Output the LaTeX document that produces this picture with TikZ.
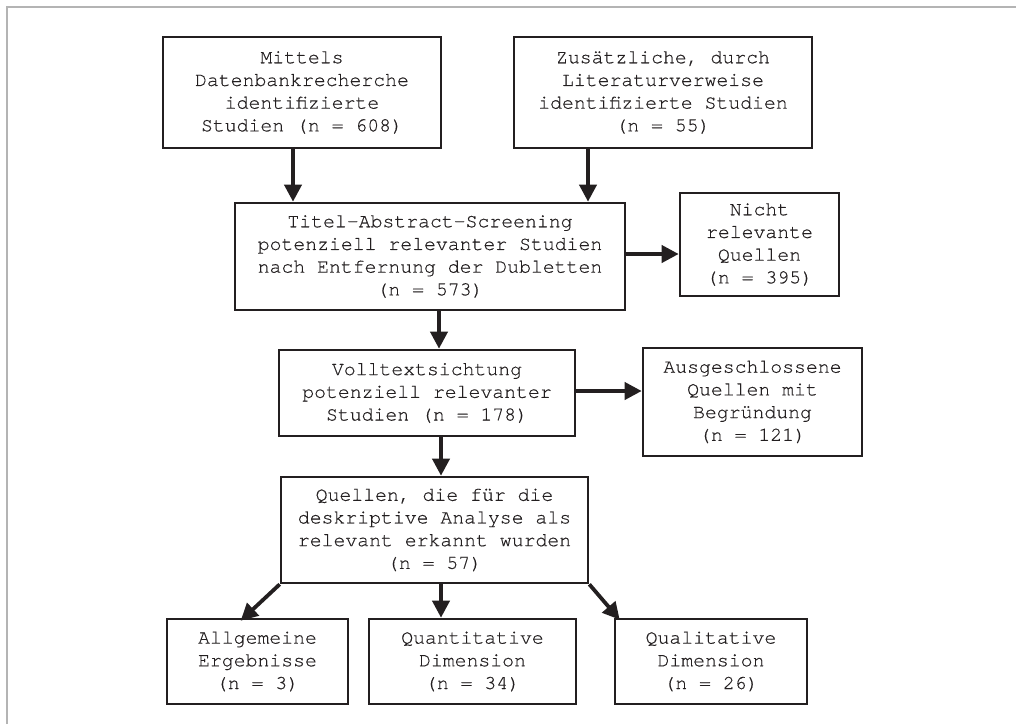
\documentclass[tikz,border=0pt]{standalone}
\usepackage{fontspec}
\setmainfont{TeX Gyre Cursor}[FakeBold=0.4]
\usetikzlibrary{arrows.meta}
\definecolor{ink}{HTML}{231F20}
\definecolor{frame}{HTML}{B4B4B4}
\begin{document}
\begin{tikzpicture}[x=1pt,y=-1pt,
  box/.style={draw=ink, line width=2.6pt, inner sep=0pt, align=center, text=ink,
    font=\fontsize{19.8}{22.7}\selectfont},
  arr/.style={draw=ink, line width=3.8pt, -{Triangle[length=17pt,width=17pt]}}]
\useasboundingbox (0,0) rectangle (1016,724);
\draw[frame, line width=2pt] (7,724) -- (7,7) -- (1016,7);
\node[box, minimum width=278pt, minimum height=111pt] (b1) at (302,92.5)
  {Mittels\\Datenbankrecherche\\identifizierte\\Studien (n = 608)};
\node[box, minimum width=298pt, minimum height=111pt] (b2) at (663,92.5)
  {Zusätzliche, durch\\Literaturverweise\\identifizierte Studien\\(n = 55)};
\node[box, minimum width=390pt, minimum height=107pt] (b3) at (430,256.5)
  {Titel-Abstract-Screening\\potenziell relevanter Studien\\nach Entfernung der Dubletten\\(n = 573)};
\node[box, minimum width=159pt, minimum height=103pt] (b4) at (759.5,244.5)
  {Nicht\\relevante\\Quellen\\(n = 395)};
\node[box, minimum width=296pt, minimum height=86pt] (b5) at (427,393)
  {Volltextsichtung\\potenziell relevanter\\Studien (n = 178)};
\node[box, minimum width=219pt, minimum height=108pt] (b6) at (752.5,402)
  {Ausgeschlossene\\Quellen mit\\Begründung\\(n = 121)};
\node[box, minimum width=307pt, minimum height=106pt] (b7) at (434.5,530)
  {Quellen, die für die\\deskriptive Analyse als\\relevant erkannt wurden\\(n = 57)};
\node[box, minimum width=181pt, minimum height=85pt] (b8) at (257.5,661.5)
  {Allgemeine\\Ergebnisse\\(n = 3)};
\node[box, minimum width=207pt, minimum height=85pt] (b9) at (472.5,661.5)
  {Quantitative\\Dimension\\(n = 34)};
\node[box, minimum width=192pt, minimum height=85pt] (b10) at (711,661.5)
  {Qualitative\\Dimension\\(n = 26)};
\draw[arr] ([xshift=-9pt]b1.south) -- ([xshift=-9pt]b1.south |- b3.north);
\draw[arr] ([xshift=-75pt]b2.south) -- ([xshift=-75pt]b2.south |- b3.north);
\draw[arr] ([yshift=2.5pt]b3.east) -- ([yshift=2.5pt]b3.east -| b4.west);
\draw[arr] ([xshift=9pt]b3.south) -- ([xshift=9pt]b3.south |- b5.north);
\draw[arr] ([yshift=2pt]b5.east) -- ([yshift=2pt]b5.east -| b6.west);
\draw[arr] ([xshift=14pt]b5.south) -- ([xshift=14pt]b5.south |- b7.north);
\draw[arr] ([xshift=6.5pt]b7.south) -- ([xshift=6.5pt]b7.south |- b9.north);
\draw[arr] (b7.south west) -- ([xshift=75pt,yshift=-3pt]b8.north west);
\draw[arr] (b7.south east) -- ([xshift=6pt,yshift=-2pt]b10.north west);
\end{tikzpicture}
\end{document}
